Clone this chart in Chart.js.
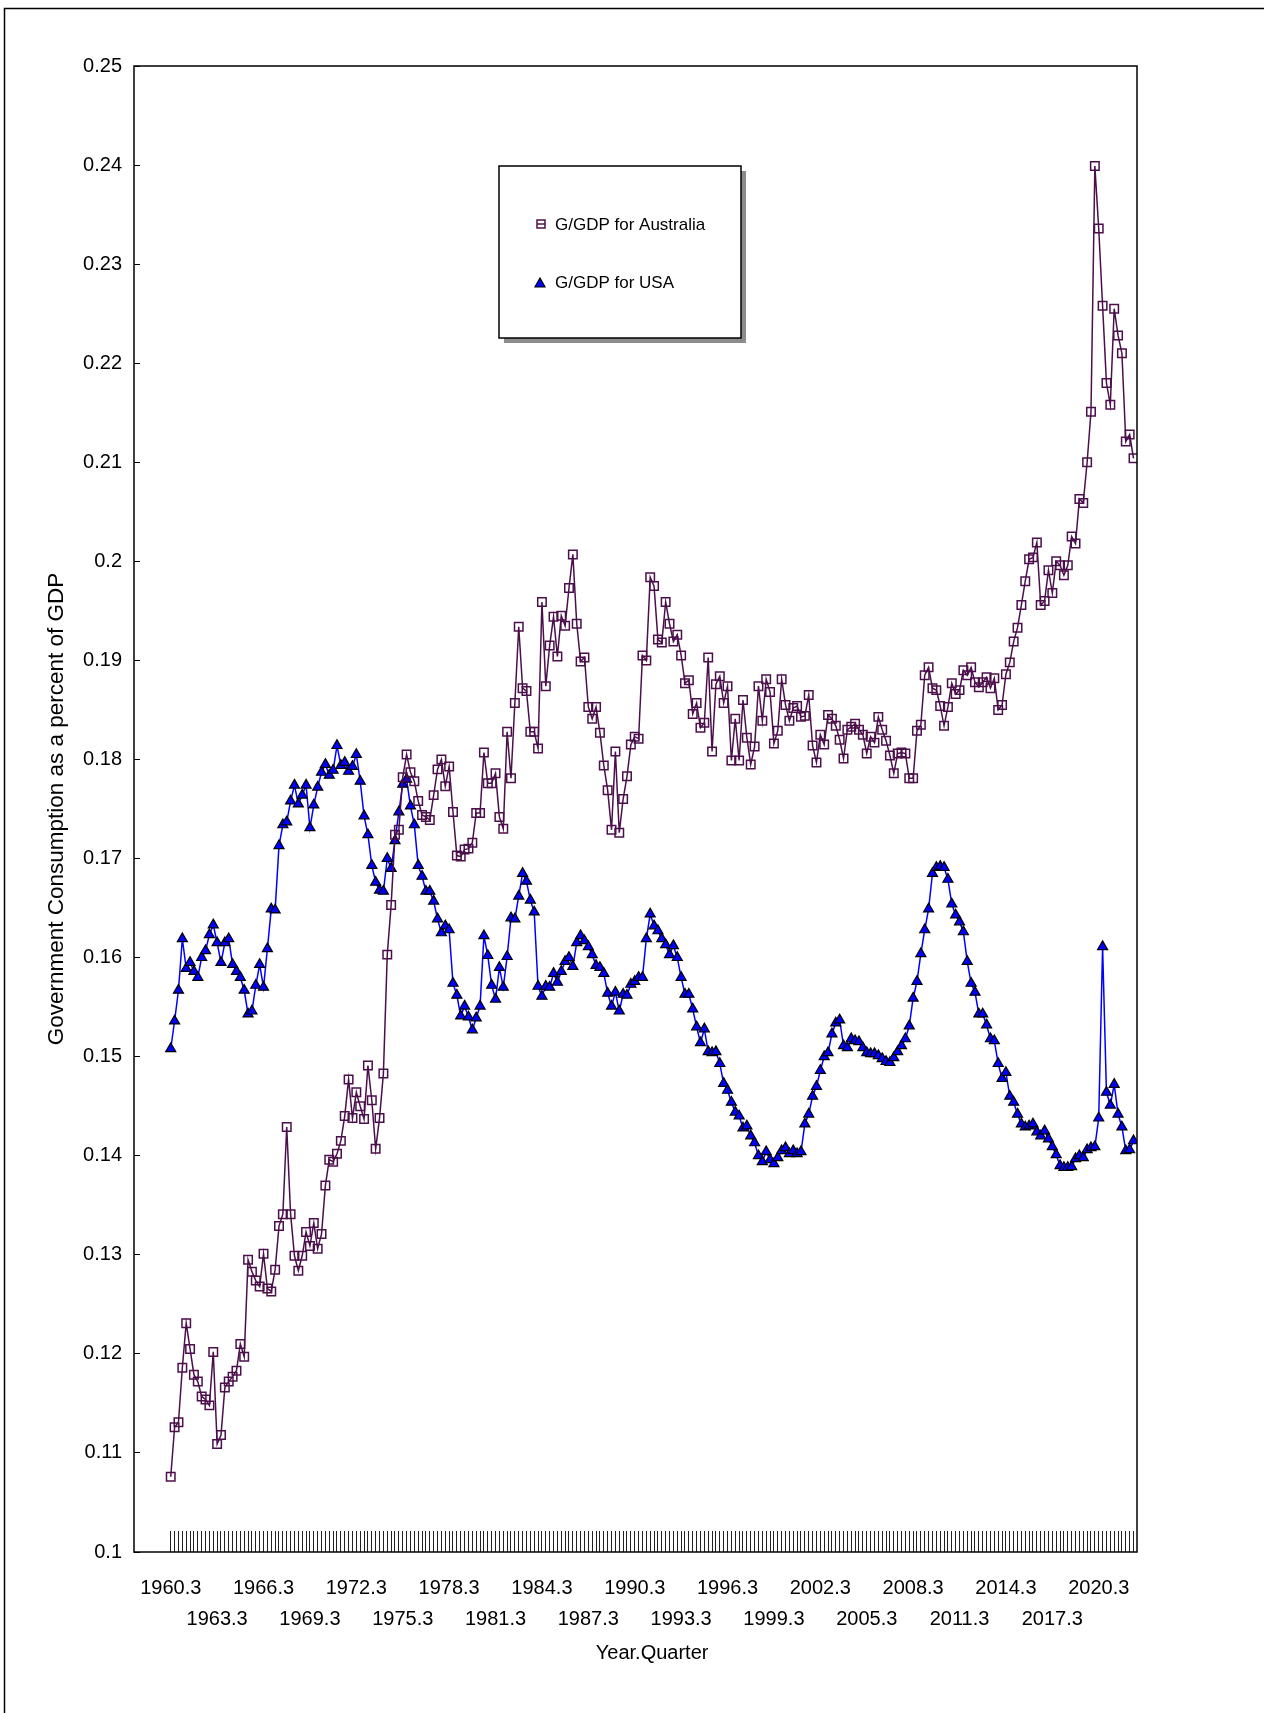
<!DOCTYPE html>
<html>
<head>
<meta charset="utf-8">
<script src="https://cdn.jsdelivr.net/npm/chart.js@4.4.0/dist/chart.umd.min.js"></script>
<style>
   html, body { margin: 0; padding: 0; background: #fff; }
   #wrap { position: relative; width: 1264px; height: 1713px; }
</style>
</head>
<body>
<div id="wrap"><canvas id="chart-ggdp"></canvas></div>
<script>
// trimestres 1960.3 ate 2022.4
var quarters = [];
var ano = 1960, tri = 3;
while (quarters.length < 250) {
   quarters.push(ano + "." + tri);
   tri++;
   if (tri > 4) { tri = 1; ano++; }
}

var tickLabels = ["1960.3", "1963.3", "1966.3", "1969.3", "1972.3", "1975.3", "1978.3",
   "1981.3", "1984.3", "1987.3", "1990.3", "1993.3", "1996.3", "1999.3", "2002.3",
   "2005.3", "2008.3", "2011.3", "2014.3", "2017.3", "2020.3"];

var ggdpAustralia = [
   0.1076, 0.1126, 0.1131, 0.1186, 0.1231, 0.1205, 0.1179, 0.1172, 0.1157, 0.1154,
   0.1148, 0.1202, 0.1109, 0.1118, 0.1166, 0.1172, 0.1177, 0.1183, 0.1210, 0.1197,
   0.1295, 0.1283, 0.1274, 0.1268, 0.1301, 0.1266, 0.1263, 0.1285, 0.1329, 0.1341,
   0.1429, 0.1341, 0.1299, 0.1284, 0.1299, 0.1323, 0.1309, 0.1332, 0.1306, 0.1321,
   0.1370, 0.1396, 0.1394, 0.1402, 0.1415, 0.1440, 0.1477, 0.1438, 0.1464, 0.1450,
   0.1437, 0.1491, 0.1456, 0.1407, 0.1438, 0.1483, 0.1603, 0.1653, 0.1724, 0.1729,
   0.1782, 0.1805, 0.1787, 0.1778, 0.1758, 0.1744, 0.1742, 0.1739, 0.1764, 0.1790,
   0.1800, 0.1773, 0.1793, 0.1747, 0.1703, 0.1702, 0.1709, 0.1710, 0.1716, 0.1746,
   0.1746, 0.1807, 0.1776, 0.1776, 0.1786, 0.1742, 0.1730, 0.1828, 0.1781, 0.1857,
   0.1934, 0.1872, 0.1869, 0.1828, 0.1828, 0.1811, 0.1959, 0.1874, 0.1915, 0.1944,
   0.1904, 0.1945, 0.1935, 0.1973, 0.2007, 0.1937, 0.1899, 0.1903, 0.1853, 0.1841,
   0.1853, 0.1827, 0.1794, 0.1769, 0.1729, 0.1808, 0.1726, 0.1760, 0.1783, 0.1815,
   0.1823, 0.1821, 0.1905, 0.1900, 0.1984, 0.1975, 0.1921, 0.1918, 0.1959, 0.1937,
   0.1919, 0.1926, 0.1905, 0.1877, 0.1880, 0.1846, 0.1857, 0.1832, 0.1837, 0.1903,
   0.1808, 0.1876, 0.1884, 0.1857, 0.1874, 0.1799, 0.1841, 0.1799, 0.1860, 0.1822,
   0.1795, 0.1813, 0.1874, 0.1839, 0.1881, 0.1868, 0.1816, 0.1829, 0.1881, 0.1855,
   0.1839, 0.1852, 0.1854, 0.1843, 0.1844, 0.1865, 0.1814, 0.1797, 0.1825, 0.1815,
   0.1845, 0.1841, 0.1834, 0.1820, 0.1801, 0.1830, 0.1833, 0.1836, 0.1830, 0.1825,
   0.1806, 0.1823, 0.1817, 0.1843, 0.1830, 0.1819, 0.1804, 0.1786, 0.1806, 0.1807,
   0.1806, 0.1781, 0.1781, 0.1829, 0.1835, 0.1885, 0.1893, 0.1872, 0.1870, 0.1854,
   0.1834, 0.1853, 0.1877, 0.1866, 0.1870, 0.1890, 0.1885, 0.1893, 0.1878, 0.1873,
   0.1878, 0.1883, 0.1872, 0.1882, 0.1850, 0.1855, 0.1886, 0.1898, 0.1919, 0.1933,
   0.1956, 0.1980, 0.2002, 0.2004, 0.2019, 0.1956, 0.1960, 0.1991, 0.1968, 0.2000,
   0.1996, 0.1986, 0.1996, 0.2025, 0.2018, 0.2063, 0.2059, 0.2100, 0.2151, 0.2399,
   0.2336, 0.2258, 0.2180, 0.2158, 0.2255, 0.2228, 0.2210, 0.2121, 0.2128, 0.2104
];

var ggdpUSA = [
   0.1508, 0.1536, 0.1567, 0.1619, 0.1589, 0.1595, 0.1586, 0.1580, 0.1600, 0.1607,
   0.1623, 0.1633, 0.1615, 0.1595, 0.1615, 0.1619, 0.1593, 0.1586, 0.1580, 0.1567,
   0.1543, 0.1546, 0.1572, 0.1593, 0.1570, 0.1609, 0.1649, 0.1648, 0.1713, 0.1734,
   0.1737, 0.1758, 0.1774, 0.1755, 0.1764, 0.1774, 0.1731, 0.1754, 0.1772, 0.1787,
   0.1795, 0.1784, 0.1789, 0.1814, 0.1794, 0.1797, 0.1788, 0.1793, 0.1805, 0.1778,
   0.1743, 0.1724, 0.1693, 0.1676, 0.1668, 0.1667, 0.1700, 0.1690, 0.1718, 0.1747,
   0.1775, 0.1780, 0.1753, 0.1734, 0.1693, 0.1682, 0.1667, 0.1667, 0.1657, 0.1639,
   0.1625, 0.1632, 0.1628, 0.1574, 0.1562, 0.1541, 0.1551, 0.1540, 0.1527, 0.1539,
   0.1551, 0.1622, 0.1602, 0.1572, 0.1558, 0.1590, 0.1570, 0.1601, 0.1640, 0.1639,
   0.1662, 0.1685, 0.1677, 0.1658, 0.1646, 0.1571, 0.1561, 0.1571, 0.1570, 0.1584,
   0.1575, 0.1586, 0.1596, 0.1600, 0.1591, 0.1615, 0.1622, 0.1617, 0.1611, 0.1603,
   0.1592, 0.1590, 0.1584, 0.1564, 0.1551, 0.1565, 0.1546, 0.1563, 0.1562, 0.1573,
   0.1576, 0.1580, 0.1580, 0.1619, 0.1644, 0.1632, 0.1627, 0.1619, 0.1613, 0.1603,
   0.1612, 0.1600, 0.1580, 0.1563, 0.1563, 0.1548, 0.1530, 0.1514, 0.1528, 0.1505,
   0.1504, 0.1505, 0.1493, 0.1473, 0.1466, 0.1454, 0.1444, 0.1440, 0.1428, 0.1430,
   0.1420, 0.1413, 0.1400, 0.1394, 0.1404, 0.1396, 0.1392, 0.1398, 0.1405, 0.1408,
   0.1402, 0.1405, 0.1402, 0.1404, 0.1432, 0.1442, 0.1460, 0.1470, 0.1486, 0.1500,
   0.1504, 0.1523, 0.1534, 0.1537, 0.1511, 0.1509, 0.1518, 0.1516, 0.1515, 0.1509,
   0.1504, 0.1503, 0.1503, 0.1501, 0.1498, 0.1495, 0.1494, 0.1499, 0.1505, 0.1511,
   0.1518, 0.1531, 0.1559, 0.1576, 0.1604, 0.1628, 0.1649, 0.1685, 0.1691, 0.1692,
   0.1691, 0.1679, 0.1654, 0.1643, 0.1636, 0.1626, 0.1596, 0.1574, 0.1565, 0.1543,
   0.1543, 0.1532, 0.1518, 0.1516, 0.1493, 0.1478, 0.1484, 0.1460, 0.1454, 0.1442,
   0.1432, 0.1429, 0.1430, 0.1432, 0.1424, 0.1420, 0.1425, 0.1417, 0.1409, 0.1401,
   0.1390, 0.1388, 0.1388, 0.1389, 0.1397, 0.1400, 0.1398, 0.1406, 0.1408, 0.1409,
   0.1438, 0.1611, 0.1464, 0.1451, 0.1472, 0.1442, 0.1429, 0.1405, 0.1406, 0.1415
];

var corAus = "#4b0f4b";
var corUsa = "#0000ff";
var fonte = '"Liberation Sans", Arial, sans-serif';

function pontos(serie) {
   return serie.map(function (v, i) { return { x: i, y: v }; });
}

// moldura, caixa do grafico, legenda e titulo do eixo x
var extras = {
   id: "extras",
   afterDraw: function (chart) {
      var ctx = chart.ctx;
      var area = chart.chartArea;
      ctx.save();
      ctx.strokeStyle = "#000";
      ctx.lineWidth = 1.5;
      ctx.strokeRect(4.5, 8.5, 1300, 1750);
      ctx.strokeRect(area.left, area.top, area.right - area.left, area.bottom - area.top);

      // legenda
      ctx.fillStyle = "#8c8c8c";
      ctx.fillRect(504, 171, 242, 172);
      ctx.fillStyle = "#fff";
      ctx.fillRect(499, 166, 242, 172);
      ctx.strokeRect(499, 166, 242, 172);

      ctx.strokeStyle = corAus;
      ctx.lineWidth = 1.5;
      ctx.strokeRect(537, 220, 8, 8);
      ctx.beginPath();
      ctx.moveTo(537, 224);
      ctx.lineTo(545, 224);
      ctx.stroke();

      ctx.beginPath();
      ctx.moveTo(540, 278);
      ctx.lineTo(545, 287);
      ctx.lineTo(535, 287);
      ctx.closePath();
      ctx.fillStyle = corUsa;
      ctx.fill();
      ctx.strokeStyle = "#000";
      ctx.lineWidth = 1.2;
      ctx.stroke();

      ctx.fillStyle = "#000";
      ctx.font = "17px " + fonte;
      ctx.textBaseline = "middle";
      ctx.textAlign = "left";
      ctx.fillText("G/GDP for Australia", 555, 225);
      ctx.fillText("G/GDP for USA", 555, 283);

      var xs = chart.scales.x;
      ctx.font = "20px " + fonte;
      ctx.textAlign = "center";
      ctx.fillText("Year.Quarter", xs.getPixelForValue(124.5), 1653);
      ctx.restore();
   }
};

const ctxG = document.getElementById("chart-ggdp");
new Chart(ctxG, {
   type: "line",
   data: {
      datasets: [
         {
            label: "G/GDP for Australia",
            data: pontos(ggdpAustralia),
            borderColor: corAus,
            borderWidth: 1.5,
            pointStyle: "rect",
            pointRadius: 6,
            pointBorderWidth: 1.5,
            pointBorderColor: corAus,
            pointBackgroundColor: "rgba(255,255,255,0)",
            tension: 0,
         },
         {
            label: "G/GDP for USA",
            data: pontos(ggdpUSA),
            borderColor: corUsa,
            borderWidth: 1.5,
            pointStyle: "triangle",
            pointRadius: 5.8,
            pointBorderWidth: 1.2,
            pointBorderColor: "#000",
            pointBackgroundColor: corUsa,
            tension: 0,
         },
      ],
   },
   options: {
      responsive: true,
      maintainAspectRatio: false,
      animation: false,
      layout: {
         padding: { left: 0, top: 66, right: 127, bottom: 0 },
      },
      plugins: {
         legend: { display: false },
         tooltip: { enabled: false },
      },
      scales: {
         x: {
            type: "linear",
            min: -9.5,
            max: 249.9,
            afterBuildTicks: function (scale) {
               scale.ticks = quarters.map(function (q, i) { return { value: i }; });
            },
            afterFit: function (scale) {
               scale.height = 161;
            },
            border: { display: false },
            grid: {
               display: true,
               drawOnChartArea: false,
               drawTicks: true,
               tickLength: -21,
               color: "#222",
               lineWidth: 1,
            },
            ticks: {
               autoSkip: false,
               maxRotation: 0,
               minRotation: 0,
               padding: 42,
               color: "#000",
               font: { family: fonte, size: 20, lineHeight: 1.55 },
               callback: function (value) {
                  var lbl = quarters[value];
                  var k = tickLabels.indexOf(lbl);
                  if (k < 0) return "";
                  return k % 2 === 0 ? [lbl, ""] : ["", lbl];
               },
            },
         },
         y: {
            min: 0.1,
            max: 0.25,
            afterFit: function (scale) {
               scale.width = 134;
            },
            border: { display: false },
            grid: {
               display: true,
               drawOnChartArea: false,
               drawTicks: true,
               tickLength: -6,
               color: "#000",
            },
            ticks: {
               stepSize: 0.01,
               padding: 18,
               color: "#000",
               font: { family: fonte, size: 20 },
               callback: function (value) {
                  return String(Number(value.toFixed(2)));
               },
            },
            title: {
               display: true,
               text: "Government Consumption as a percent of GDP",
               color: "#000",
               font: { family: fonte, size: 22.5 },
               padding: { top: 43, bottom: 0 },
            },
         },
      },
   },
   plugins: [extras],
});
</script>
</body>
</html>
